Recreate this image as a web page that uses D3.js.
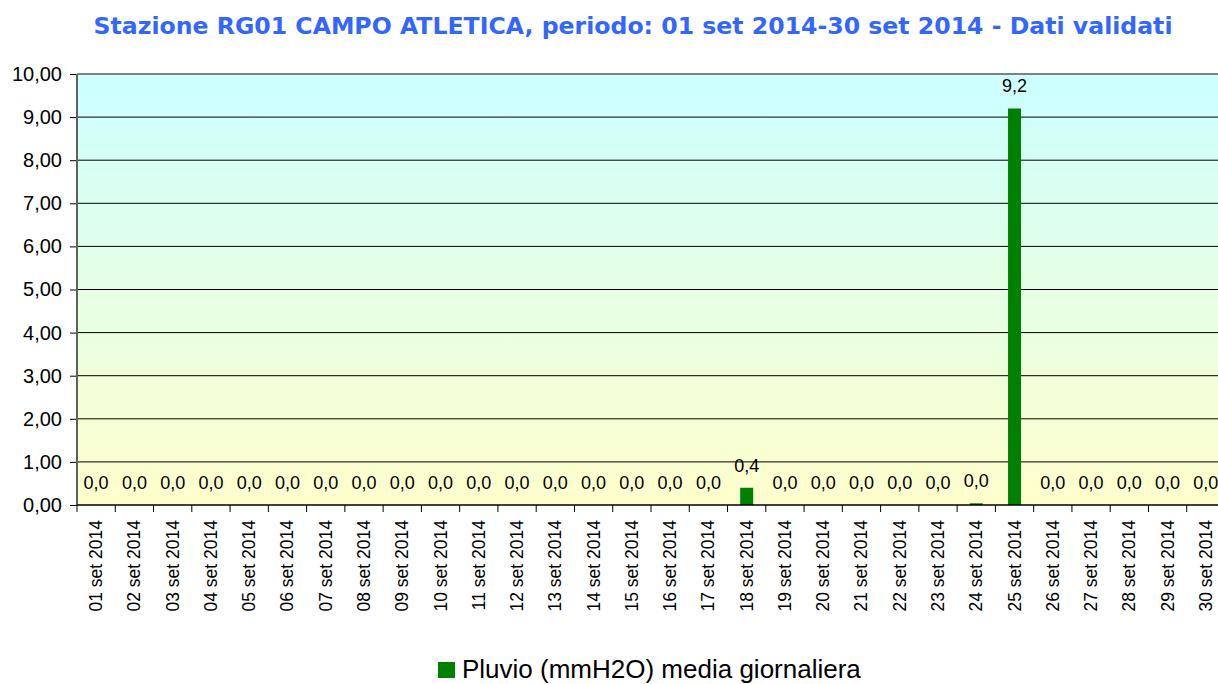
<!DOCTYPE html>
<html>
<head>
<meta charset="utf-8">
<script src="https://cdn.jsdelivr.net/npm/d3@7"></script>
<style>
  body { margin: 0; background: #fff; }
  svg { display: block; }
</style>
</head>
<body>
<svg id="chart" width="1218" height="684"></svg>
<script>
// dati giornalieri pluvio
let days = d3.range(1, 31).map((d) => (d < 10 ? '0' + d : '' + d) + ' set 2014');
let values = [0, 0, 0, 0, 0, 0, 0, 0, 0, 0, 0, 0, 0, 0, 0, 0, 0, 0.4, 0, 0, 0, 0, 0, 0.04, 9.2, 0, 0, 0, 0, 0];
let yTicks = [0, 1, 2, 3, 4, 5, 6, 7, 8, 9, 10];

let title = 'Stazione RG01 CAMPO ATLETICA, periodo: 01 set 2014-30 set 2014 - Dati validati';
let seriesName = 'Pluvio (mmH2O) media giornaliera';

let margin = {top: 74, left: 77},
  width = 1148,
  height = 431;

let fmt = (v, n) => v.toFixed(n).replace('.', ',');

let svg = d3.select('#chart');

let defs = svg.append('defs');
let grad = defs.append('linearGradient')
  .attr('id', 'bg')
  .attr('x1', 0).attr('y1', 0).attr('x2', 0).attr('y2', 1);
grad.append('stop').attr('offset', '0%').attr('stop-color', '#ccffff');
grad.append('stop').attr('offset', '100%').attr('stop-color', '#ffffcc');

// title
svg.append('text')
  .attr('x', 633)
  .attr('y', 34)
  .attr('text-anchor', 'middle')
  .attr('font-family', 'DejaVu Sans, Verdana, sans-serif')
  .attr('font-weight', 'bold')
  .attr('font-size', 23.6)
  .attr('fill', '#3366ff')
  .text(title);

let g = svg.append('g')
  .attr('transform', 'translate(' + margin.left + ',' + margin.top + ')');

let x = d3.scaleBand()
  .domain(days)
  .range([0, width]);

let y = d3.scaleLinear()
  .domain([0, 10])
  .range([height, 0]);

g.append('rect')
  .attr('width', width)
  .attr('height', height)
  .attr('fill', 'url(#bg)');

// gridlines
g.selectAll('.grid')
  .data(yTicks.slice(1, -1))
  .enter().append('line')
  .attr('x1', 0)
  .attr('x2', width)
  .attr('y1', (d) => y(d))
  .attr('y2', (d) => y(d))
  .attr('stroke', '#000')
  .attr('stroke-width', 1);

// top border
g.append('line')
  .attr('x1', 0).attr('x2', width)
  .attr('y1', 0).attr('y2', 0)
  .attr('stroke', '#808080')
  .attr('stroke-width', 2);

// bars
let barW = 13;
g.selectAll('.bar')
  .data(values)
  .enter().append('rect')
  .attr('class', 'bar')
  .attr('x', (d, i) => x(days[i]) + x.bandwidth() / 2 - barW / 2)
  .attr('y', (d) => y(d))
  .attr('width', barW)
  .attr('height', (d) => height - y(d))
  .attr('fill', '#008000');

// value labels
g.selectAll('.lbl')
  .data(values)
  .enter().append('text')
  .attr('x', (d, i) => x(days[i]) + x.bandwidth() / 2)
  .attr('y', (d) => y(d) - 16)
  .attr('text-anchor', 'middle')
  .attr('font-family', 'Liberation Sans, Arial, sans-serif')
  .attr('font-size', 18)
  .attr('fill', '#000')
  .text((d) => fmt(d, 1));

// y axis
let yAxis = g.append('g')
  .call(d3.axisLeft(y).tickValues(yTicks).tickSize(7).tickFormat((d) => fmt(d, 2)));
yAxis.select('.domain').remove();
yAxis.selectAll('.tick line').attr('stroke', '#000');
yAxis.selectAll('.tick text')
  .attr('x', -15)
  .attr('font-family', 'Liberation Sans, Arial, sans-serif')
  .attr('font-size', 20)
  .attr('fill', '#000');
g.append('line')
  .attr('x1', 0).attr('x2', 0)
  .attr('y1', 0).attr('y2', height)
  .attr('stroke', '#606060')
  .attr('stroke-width', 2);

// x axis
let xAxis = g.append('g')
  .attr('transform', 'translate(0,' + height + ')');
xAxis.append('line')
  .attr('x1', 0).attr('x2', width)
  .attr('y1', 0).attr('y2', 0)
  .attr('stroke', '#000')
  .attr('stroke-width', 1.5);
xAxis.selectAll('.xtick')
  .data(days)
  .enter().append('line')
  .attr('x1', (d) => x(d))
  .attr('x2', (d) => x(d))
  .attr('y1', 0)
  .attr('y2', 7)
  .attr('stroke', '#000');
xAxis.selectAll('.xlbl')
  .data(days)
  .enter().append('text')
  .attr('transform', (d) => 'translate(' + (x(d) + x.bandwidth() / 2 + 6) + ',15) rotate(-90)')
  .attr('text-anchor', 'end')
  .attr('font-family', 'Liberation Sans, Arial, sans-serif')
  .attr('font-size', 17.5)
  .attr('fill', '#000')
  .text((d) => d);

// legend
let legend = svg.append('g')
  .attr('transform', 'translate(438,662)');
legend.append('rect')
  .attr('width', 17)
  .attr('height', 16)
  .attr('fill', '#008000');
legend.append('text')
  .attr('x', 24)
  .attr('y', 16)
  .attr('font-family', 'Liberation Sans, Arial, sans-serif')
  .attr('font-size', 26)
  .attr('fill', '#000')
  .text(seriesName);
</script>
</body>
</html>
